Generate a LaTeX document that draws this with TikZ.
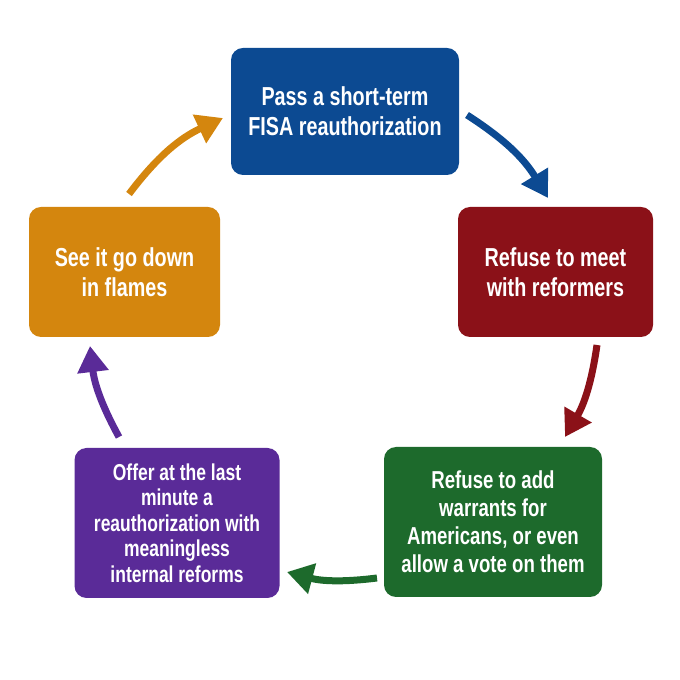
\documentclass[tikz,border=0pt]{standalone}
\usepackage{fontspec}
\usetikzlibrary{arrows.meta}
\newfontfamily\lab{Liberation Sans}[FakeStretch=0.76]
\definecolor{cblue}{RGB}{12,74,146}
\definecolor{cred}{RGB}{139,17,24}
\definecolor{cgreen}{RGB}{29,106,44}
\definecolor{cpurple}{RGB}{90,43,152}
\definecolor{corange}{RGB}{212,134,14}
\begin{document}
\begin{tikzpicture}[x=1pt,y=1pt,
  box/.style={rounded corners=12pt, text=white, align=center, inner sep=0pt},
  bigtxt/.style={font=\lab\bfseries\fontsize{26}{30}\selectfont},
  midtxt/.style={font=\lab\bfseries\fontsize{24.5}{28}\selectfont},
  smalltxt/.style={font=\lab\bfseries\fontsize{23}{25.5}\selectfont},
  arr/.style={line width=7pt, -{Triangle[width=30pt,length=26pt]}}]
\useasboundingbox (0,0) rectangle (680,680);
\fill[white] (0,0) rectangle (680,680);
\node[box, bigtxt, fill=cblue, minimum width=228pt, minimum height=127pt] (pass) at (345,568.5) {Pass a short-term\\FISA reauthorization};
\node[box, bigtxt, fill=cred, minimum width=195pt, minimum height=130pt] (meet) at (555.5,408) {Refuse to meet\\with reformers};
\node[box, midtxt, fill=cgreen, minimum width=218pt, minimum height=150pt] (add) at (493,158) {Refuse to add\\warrants for\\Americans, or even\\allow a vote on them};
\node[box, smalltxt, fill=cpurple, minimum width=205pt, minimum height=150pt] (offer) at (177,157) {Offer at the last\\minute a\\reauthorization with\\meaningless\\internal reforms};
\node[box, bigtxt, fill=corange, minimum width=191pt, minimum height=130pt] (flames) at (124.5,408) {See it go down\\in flames};
\coordinate (b1) at (467,565); \coordinate (b2) at (548,482);
\coordinate (r1) at (597,335); \coordinate (r2) at (565,243);
\coordinate (g1) at (377,102); \coordinate (g2) at (287,108);
\coordinate (p1) at (119,243); \coordinate (p2) at (90,334);
\coordinate (o1) at (129,486); \coordinate (o2) at (223,562);
\draw[arr, cblue] (b1) to[bend left=13] (b2);
\draw[arr, cred] (r1) to[bend left=11] (r2);
\draw[arr, cgreen] (g1) to[bend left=11] (g2);
\draw[arr, cpurple] (p1) to[bend left=11] (p2);
\draw[arr, corange] (o1) to[bend left=14] (o2);
\end{tikzpicture}
\end{document}
